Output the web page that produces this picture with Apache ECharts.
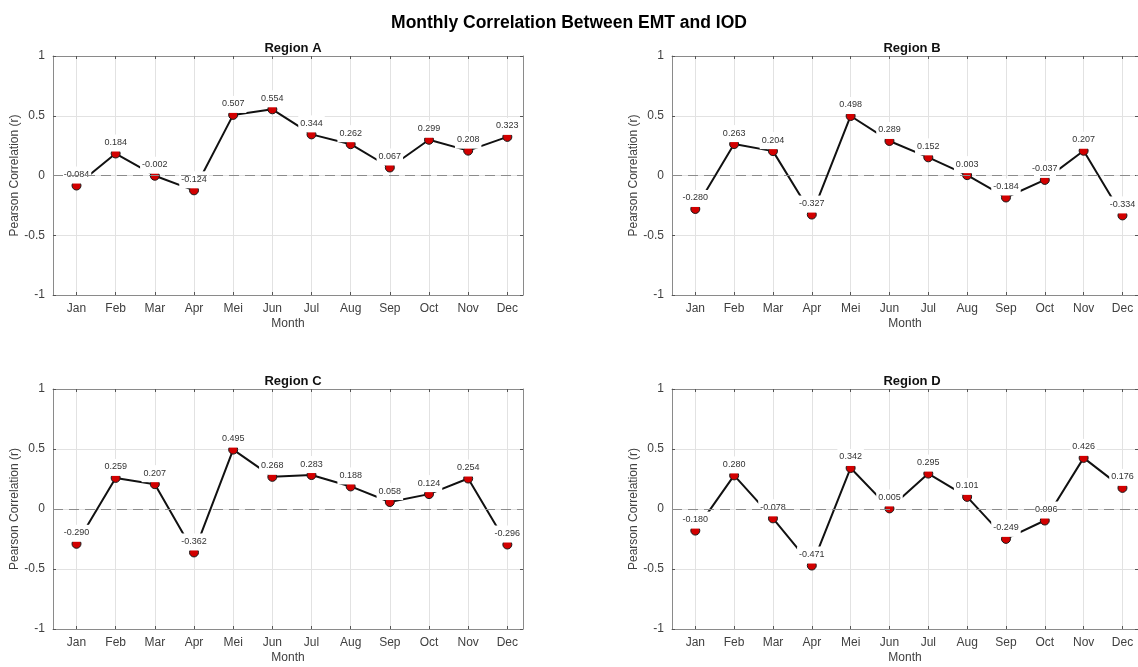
<!DOCTYPE html>
<html>
<head>
<meta charset="utf-8">
<title>Monthly Correlation Between EMT and IOD</title>
<script src="https://cdn.jsdelivr.net/npm/echarts@6/dist/echarts.min.js"></script>
<style>
  html, body { margin: 0; padding: 0; background: #ffffff; }
  #chart { width: 1138px; height: 667px; }
</style>
</head>
<body>
<div id="chart"></div>
<script>
// Month labels on the x axis
const months = ['Jan', 'Feb', 'Mar', 'Apr', 'Mei', 'Jun', 'Jul', 'Aug', 'Sep', 'Oct', 'Nov', 'Dec'];

// Pearson correlation (r) between EMT and IOD, one value per month
const regionA = [-0.084, 0.184, -0.002, -0.124, 0.507, 0.554, 0.344, 0.262, 0.067, 0.299, 0.208, 0.323];
const regionB = [-0.280, 0.263, 0.204, -0.327, 0.498, 0.289, 0.152, 0.003, -0.184, -0.037, 0.207, -0.334];
const regionC = [-0.290, 0.259, 0.207, -0.362, 0.495, 0.268, 0.283, 0.188, 0.058, 0.124, 0.254, -0.296];
const regionD = [-0.180, 0.280, -0.078, -0.471, 0.342, 0.005, 0.295, 0.101, -0.249, -0.096, 0.426, 0.176];

// Y axis range and tick step
const yMin = -1;
const yMax = 1;
const yStep = 0.5;

const FONT = '"Liberation Sans", Arial, Helvetica, sans-serif';
const monthPos = months.map((m, i) => i + 1);

const panels = [
  { title: 'Region A', values: regionA, left: 53,  top: 56,  height: 239 },
  { title: 'Region B', values: regionB, left: 672, top: 56,  height: 239 },
  { title: 'Region C', values: regionC, left: 53,  top: 389, height: 240 },
  { title: 'Region D', values: regionD, left: 672, top: 389, height: 240 }
];
const PANEL_W = 470;

const titles = [{
  text: 'Monthly Correlation Between EMT and IOD',
  left: 'center',
  top: 9,
  textStyle: { fontFamily: FONT, fontSize: 17.5, fontWeight: 'bold', color: '#000' }
}];
const grids = [];
const xAxes = [];
const yAxes = [];
const series = [];

const axisLineColor = '#8a8a8a';
const tickColor = '#555';
const labelColor = '#404040';

panels.forEach((p, i) => {
  titles.push({
    text: p.title,
    left: p.left + PANEL_W / 2,
    textAlign: 'center',
    top: p.top - 19,
    textStyle: { fontFamily: FONT, fontSize: 13, fontWeight: 'bold', color: '#111' }
  });

  grids.push({ left: p.left, top: p.top, width: PANEL_W, height: p.height, show: false });

  // bottom axis with month labels, top axis as the box edge
  xAxes.push({
    gridIndex: i, type: 'value', min: 0.4, max: 12.4, position: 'bottom',
    name: 'Month', nameLocation: 'middle', nameGap: 23,
    nameTextStyle: { fontFamily: FONT, fontSize: 12, color: labelColor },
    axisLine: { show: true, onZero: false, lineStyle: { color: axisLineColor, width: 1 } },
    axisTick: { show: true, inside: true, length: 3, customValues: monthPos, lineStyle: { color: tickColor } },
    axisLabel: {
      customValues: monthPos, margin: 8, fontFamily: FONT, fontSize: 12, color: labelColor,
      formatter: v => months[Math.round(v) - 1]
    },
    splitLine: { show: true, lineStyle: { color: '#e2e2e2', width: 1 } }
  });
  xAxes.push({
    gridIndex: i, type: 'value', min: 0.4, max: 12.4, position: 'top',
    axisLine: { show: true, onZero: false, lineStyle: { color: axisLineColor, width: 1 } },
    axisTick: { show: true, inside: true, length: 3, customValues: monthPos, lineStyle: { color: tickColor } },
    axisLabel: { show: false },
    splitLine: { show: false }
  });

  yAxes.push({
    gridIndex: i, type: 'value', min: yMin, max: yMax, interval: yStep, position: 'left',
    name: 'Pearson Correlation (r)', nameLocation: 'middle', nameGap: 32, nameRotate: 90,
    nameTextStyle: { fontFamily: FONT, fontSize: 12, color: labelColor },
    axisLine: { show: true, onZero: false, lineStyle: { color: axisLineColor, width: 1 } },
    axisTick: { show: true, inside: true, length: 3, lineStyle: { color: tickColor } },
    axisLabel: { margin: 8, fontFamily: FONT, fontSize: 12, color: labelColor },
    splitLine: { show: true, lineStyle: { color: '#e2e2e2', width: 1 } }
  });
  yAxes.push({
    gridIndex: i, type: 'value', min: yMin, max: yMax, interval: yStep, position: 'right',
    axisLine: { show: true, onZero: false, lineStyle: { color: axisLineColor, width: 1 } },
    axisTick: { show: true, inside: true, length: 3, lineStyle: { color: tickColor } },
    axisLabel: { show: false },
    splitLine: { show: false }
  });

  // dashed reference line at r = 0, kept beneath the data line and labels
  series.push({
    type: 'line', xAxisIndex: 2 * i, yAxisIndex: 2 * i, data: [], z: 1, silent: true,
    markLine: {
      silent: true, symbol: 'none', label: { show: false },
      lineStyle: { color: '#8c8c8c', type: [10, 6], width: 1.2 },
      data: [{ yAxis: 0 }]
    }
  });

  series.push({
    type: 'line', name: p.title, xAxisIndex: 2 * i, yAxisIndex: 2 * i, z: 3,
    data: p.values.map((v, k) => [k + 1, v]),
    symbol: 'circle', symbolSize: 9,
    itemStyle: { color: '#d20000', borderColor: '#1a1a1a', borderWidth: 1 },
    lineStyle: { color: '#111', width: 2 },
    label: {
      show: true, position: 'top', distance: -3,
      formatter: prm => prm.value[1].toFixed(3),
      fontFamily: FONT, fontSize: 9, lineHeight: 10, color: '#333',
      backgroundColor: '#ffffff', padding: [3, 2, 4, 2]
    },
    emphasis: { disabled: true }
  });
});

const chart = echarts.init(document.getElementById('chart'), null, { renderer: 'canvas' });
chart.setOption({
  backgroundColor: '#ffffff',
  animation: false,
  title: titles,
  grid: grids,
  xAxis: xAxes,
  yAxis: yAxes,
  series: series
});
</script>
</body>
</html>
